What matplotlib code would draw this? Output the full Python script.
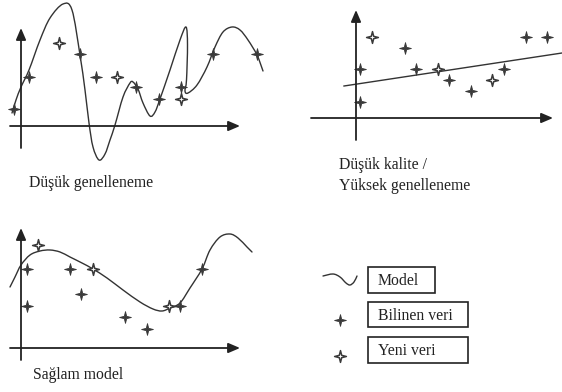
import numpy as np
import matplotlib
matplotlib.use("Agg")
import matplotlib.pyplot as plt
from matplotlib.path import Path
from matplotlib.patches import PathPatch, Rectangle

plt.rcParams['font.family'] = ['Liberation Serif', 'DejaVu Serif']

# everything is in pixel units of the sheet (y grows downward)
INK = '#333333'

# --- panel 1: overfitted model ---
p1_curve_x = [12, 16, 21, 29, 40, 50, 63, 72, 80, 85, 89, 93, 99, 105, 110, 115, 123, 130, 133,
              138, 143, 150, 155, 160, 170, 180, 186, 187.5, 186.5, 185, 188, 197, 207, 215,
              223, 232, 240, 248, 257, 263]
p1_curve_y = [113, 100, 87, 70, 40, 18, 4, 10, 55, 90, 123, 147, 160, 154, 140, 125, 97, 83, 82,
              89, 103, 116, 112, 99, 70, 40, 27, 45, 80, 91, 93, 85, 67, 47,
              32, 27, 30, 40, 55, 71]
p1_known_x = [14, 29, 80, 96, 136, 159, 181, 213, 257]
p1_known_y = [109, 77, 54, 77, 87, 99, 87, 54, 54]
p1_new_x = [59, 117, 181]
p1_new_y = [43, 77, 99]

# --- panel 2: underfitted (straight line) ---
p2_line_x = [344, 562]
p2_line_y = [86, 53]
p2_known_x = [360, 360, 405, 416, 449, 471, 504, 526, 547]
p2_known_y = [102, 69, 48, 69, 80, 91, 69, 37, 37]
p2_new_x = [372, 438, 492]
p2_new_y = [37, 69, 80]

# --- panel 3: robust model ---
p3_curve_x = [10, 15, 21, 30, 40, 50, 60, 70, 82, 93, 107, 123, 140, 153, 162, 170, 180, 190,
              202, 210, 220, 230, 238, 247, 252]
p3_curve_y = [287, 277, 265, 255, 251, 250, 252, 257, 263, 269, 278, 290, 302, 309, 311, 308,
              303, 288, 269, 250, 237, 234, 238, 247, 252]
p3_known_x = [27, 27, 70, 81, 125, 147, 180, 202]
p3_known_y = [269, 306, 269, 294, 317, 329, 306, 269]
p3_new_x = [38, 93, 169]
p3_new_y = [245, 269, 306]

titles = ["Düşük genelleneme", "Düşük kalite /\nYüksek genelleneme", "Sağlam model"]
legend_labels = ["Model", "Bilinen veri", "Yeni veri"]

# legend sample curve
leg_curve_x = [323, 333, 340, 346, 350, 354, 357]
leg_curve_y = [276, 274, 277, 283, 285, 282, 276]

# four pointed star marker
star = Path([(0, 1), (0.2, 0.2), (1, 0), (0.2, -0.2), (0, -1), (-0.2, -0.2), (-1, 0),
             (-0.2, 0.2), (0, 1)], closed=True)


def smooth(ax, xs, ys, lw=1.0):
    # catmull-rom through the knots, handed to matplotlib as cubic bezier segments
    p = np.column_stack([xs, ys]).astype(float)
    p = np.vstack([p[0], p, p[-1]])
    verts = [p[1]]
    codes = [Path.MOVETO]
    for i in range(1, len(p) - 2):
        c1 = p[i] + (p[i + 1] - p[i - 1]) / 6
        c2 = p[i + 1] - (p[i + 2] - p[i]) / 6
        verts += [c1, c2, p[i + 1]]
        codes += [Path.CURVE4] * 3
    ax.add_patch(PathPatch(Path(verts, codes), fill=False, edgecolor=INK, lw=lw,
                           capstyle='round', joinstyle='round'))


def arrow_axes(ax, x0, x1, y0, y1, ox, oy):
    kw = dict(arrowstyle='-|>,head_length=0.7,head_width=0.3', color='#222222', lw=1.3,
              shrinkA=0, shrinkB=0, mutation_scale=10)
    ax.annotate('', xy=(x1, oy), xytext=(x0, oy), arrowprops=kw)
    ax.annotate('', xy=(ox, y0), xytext=(ox, y1), arrowprops=kw)


def stars(ax, kx, ky, nx, ny):
    ax.plot(kx, ky, ls='none', marker=star, ms=8.5, mfc='#3a3a3a', mec='#3a3a3a', mew=0.6)
    ax.plot(nx, ny, ls='none', marker=star, ms=8.5, mfc='white', mec='#3a3a3a', mew=1.1)


fig = plt.figure(figsize=(5.62, 3.92), dpi=100)
ax = fig.add_axes([0, 0, 1, 1])
ax.set_xlim(0, 562)
ax.set_ylim(392, 0)
ax.axis('off')

# panel 1
arrow_axes(ax, 10, 240, 28, 148, 21, 126)
smooth(ax, p1_curve_x, p1_curve_y)
stars(ax, p1_known_x, p1_known_y, p1_new_x, p1_new_y)
ax.text(29, 183, titles[0], fontsize=11.3, color='#222222', va='center')

# panel 2
arrow_axes(ax, 311, 553, 10, 140, 356, 118)
ax.plot(p2_line_x, p2_line_y, color=INK, lw=1.0)
stars(ax, p2_known_x, p2_known_y, p2_new_x, p2_new_y)
ax.text(339, 175.5, titles[1], fontsize=11.3, color='#222222', va='center', linespacing=1.4)

# panel 3
arrow_axes(ax, 10, 240, 228, 360, 21, 348)
smooth(ax, p3_curve_x, p3_curve_y)
stars(ax, p3_known_x, p3_known_y, p3_new_x, p3_new_y)
ax.text(33, 375, titles[2], fontsize=11.3, color='#222222', va='center')

# legend
smooth(ax, leg_curve_x, leg_curve_y)
stars(ax, [340], [320], [340], [356])
boxes = [(368, 267, 67, 26), (368, 302, 100, 25), (368, 337, 100, 26)]
for (bx, by, bw, bh), lab in zip(boxes, legend_labels):
    ax.add_patch(Rectangle((bx, by), bw, bh, fill=False, edgecolor='#222222', lw=1.2))
    ax.text(bx + 10, by + bh / 2 + 1, lab, fontsize=11.3, color='#222222', va='center')

fig.savefig('out.png', dpi=100)
